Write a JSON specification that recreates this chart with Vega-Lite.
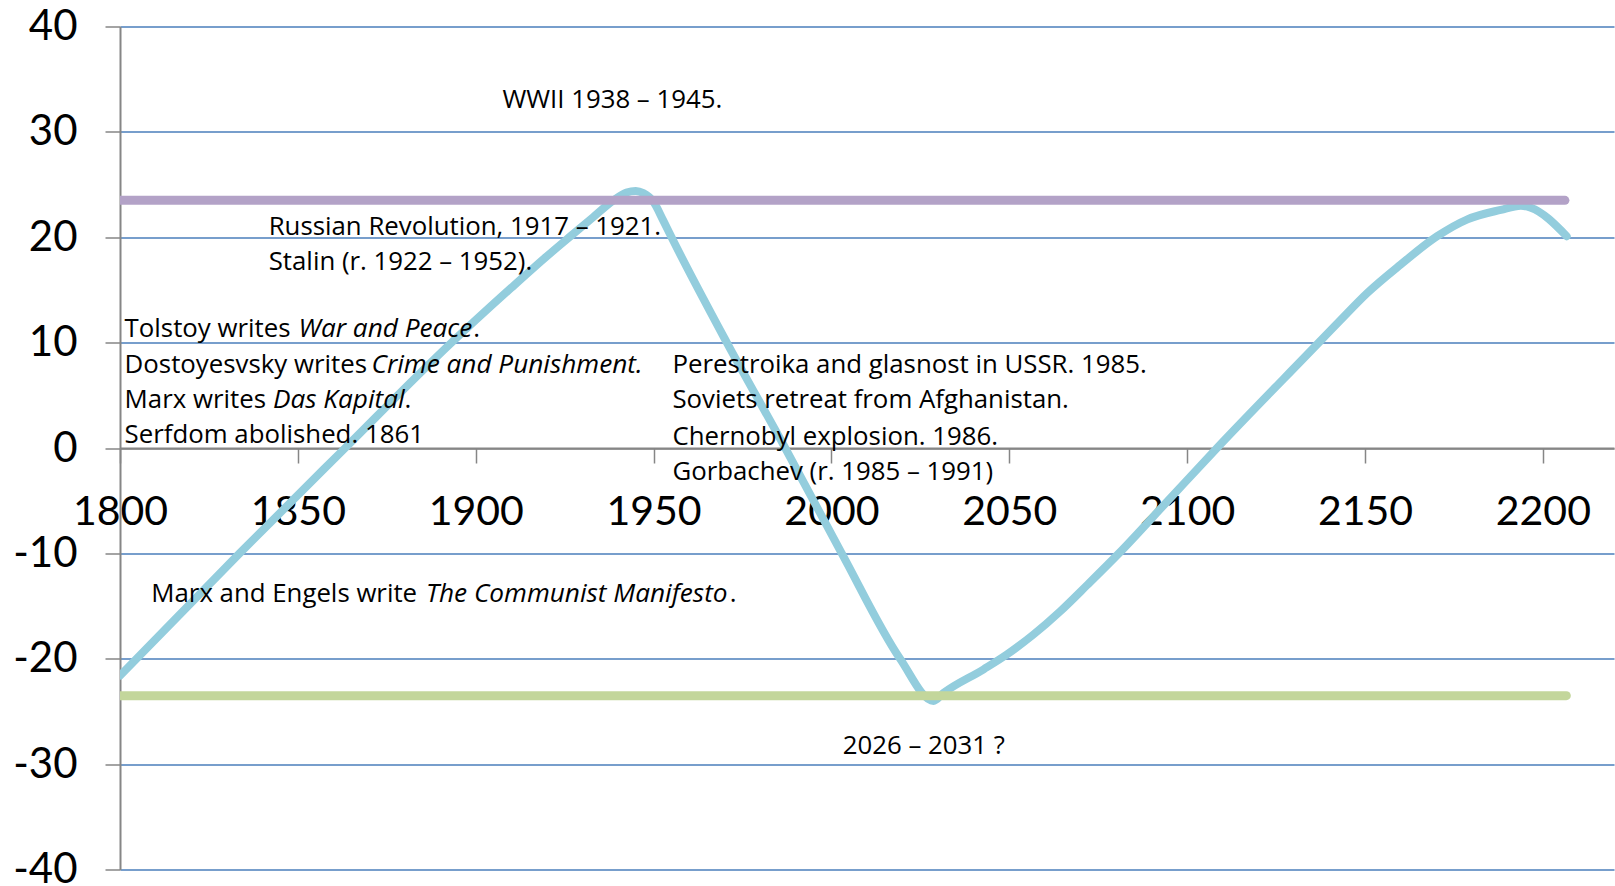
{
  "$schema": "https://vega.github.io/schema/vega-lite/v6.json",
  "width": 1494,
  "height": 843,
  "autosize": {"type": "none"},
  "padding": {"left": 120, "top": 26.5, "right": 1, "bottom": 16.5},
  "background": "white",
  "config": {"view": {"stroke": null}, "font": "Lato"},
  "datasets": {
    "curve": [
      {"year": 1800, "value": -21.6}, {"year": 1833.6, "value": -10}, {"year": 1863.3, "value": 0},
      {"year": 1893.2, "value": 10}, {"year": 1910, "value": 15.2}, {"year": 1920, "value": 18.2},
      {"year": 1927, "value": 20.2}, {"year": 1933, "value": 21.9}, {"year": 1938.7, "value": 23.5},
      {"year": 1942.4, "value": 24.25}, {"year": 1945, "value": 24.4}, {"year": 1947.1, "value": 24.2},
      {"year": 1949.9, "value": 23.4}, {"year": 1952.7, "value": 21.6}, {"year": 1954.6, "value": 20.3},
      {"year": 1970.6, "value": 10}, {"year": 1987, "value": 0}, {"year": 2002.9, "value": -10},
      {"year": 2019.3, "value": -20}, {"year": 2028.7, "value": -24}, {"year": 2031.5, "value": -23.25},
      {"year": 2042.8, "value": -21.0}, {"year": 2049.3, "value": -19.6}, {"year": 2056.8, "value": -17.7},
      {"year": 2064.3, "value": -15.5}, {"year": 2071.9, "value": -13.0}, {"year": 2080.8, "value": -10},
      {"year": 2094.6, "value": -5}, {"year": 2108.4, "value": 0}, {"year": 2137, "value": 10},
      {"year": 2143, "value": 12.1}, {"year": 2150.6, "value": 14.7}, {"year": 2160, "value": 17.4},
      {"year": 2170.3, "value": 20.1}, {"year": 2178.8, "value": 21.7}, {"year": 2188.2, "value": 22.6},
      {"year": 2193.8, "value": 23.0}, {"year": 2196.6, "value": 22.8}, {"year": 2206.7, "value": 20.1}
    ],
    "bands": [
      {"start": 1800, "end": 2206.2, "level": 23.5, "band": "upper"},
      {"start": 1800, "end": 2206.6, "level": -23.5, "band": "lower"}
    ],
    "notes": [
      {"x": 1907.5, "y": 32.3, "label": "WWII 1938 – 1945."},
      {"x": 1841.8, "y": 20.24, "label": "Russian Revolution, 1917 – 1921."},
      {"x": 1841.8, "y": 16.92, "label": "Stalin (r. 1922 – 1952)."},
      {"x": 1801.3, "y": 10.5, "label": "Tolstoy writes "},
      {"x": 1899.3, "y": 10.5, "label": "."},
      {"x": 1801.3, "y": 7.16, "label": "Dostoyesvsky writes "},
      {"x": 1801.3, "y": 3.83, "label": "Marx writes "},
      {"x": 1880.0, "y": 3.83, "label": "."},
      {"x": 1801.3, "y": 0.5, "label": "Serfdom abolished. 1861"},
      {"x": 1955.3, "y": 7.09, "label": "Perestroika and glasnost in USSR. 1985."},
      {"x": 1955.3, "y": 3.76, "label": "Soviets retreat from Afghanistan."},
      {"x": 1955.3, "y": 0.24, "label": "Chernobyl explosion. 1986."},
      {"x": 1955.3, "y": -3.08, "label": "Gorbachev (r. 1985 – 1991)"},
      {"x": 1808.8, "y": -14.58, "label": "Marx and Engels write "},
      {"x": 1971.4, "y": -14.58, "label": "."},
      {"x": 2003.2, "y": -29.08, "label": "2026 – 2031 ?"}
    ],
    "italicNotes": [
      {"x": 1850.2, "y": 10.5, "label": "War and Peace"},
      {"x": 1870.7, "y": 7.16, "label": "Crime and Punishment."},
      {"x": 1843.0, "y": 3.83, "label": "Das Kapital"},
      {"x": 1886.0, "y": -14.58, "label": "The Communist Manifesto"}
    ]
  },
  "layer": [
    {
      "data": {"name": "curve"},
      "mark": {"type": "line", "color": "#93CDDD", "strokeWidth": 8, "strokeCap": "round", "strokeJoin": "round", "clip": true, "interpolate": "monotone"},
      "encoding": {
        "x": {
          "field": "year", "type": "quantitative",
          "scale": {"domain": [1800, 2220], "nice": false, "zero": false},
          "axis": {
            "values": [1800, 1850, 1900, 1950, 2000, 2050, 2100, 2150, 2200],
            "labelExpr": "'' + datum.value",
            "offset": -421.5,
            "grid": false,
            "domainColor": "#868686", "domainWidth": 2,
            "tickColor": "#868686", "tickWidth": 1.5, "tickSize": 15,
            "labelFont": "Lato", "labelFontSize": 41, "labelColor": "#000000",
            "labelPadding": 29, "labelFlush": false, "labelOverlap": false,
            "title": null
          }
        },
        "y": {
          "field": "value", "type": "quantitative",
          "scale": {"domain": [-40, 40], "nice": false},
          "axis": {
            "values": [-40, -30, -20, -10, 0, 10, 20, 30, 40],
            "labelExpr": "datum.value < 0 ? '-' + abs(datum.value) : '' + datum.value",
            "grid": true,
            "gridColor": {"condition": {"test": "datum.value === 0", "value": "#868686"}, "value": "#4A7EBB"},
            "gridWidth": 1.6,
            "domainColor": "#868686", "domainWidth": 2,
            "tickColor": "#868686", "tickWidth": 1.5, "tickSize": 15,
            "labelFont": "Lato", "labelFontSize": 42, "labelColor": "#000000",
            "labelPadding": 28, "labelFlush": false, "labelOverlap": false,
            "title": null
          }
        }
      }
    },
    {
      "data": {"name": "bands"},
      "mark": {"type": "rule", "strokeWidth": 9, "strokeCap": "round", "clip": true},
      "encoding": {
        "x": {"field": "start", "type": "quantitative"},
        "x2": {"field": "end"},
        "y": {"field": "level", "type": "quantitative"},
        "color": {
          "field": "band", "type": "nominal",
          "scale": {"domain": ["upper", "lower"], "range": ["#B3A2C7", "#C3D69B"]},
          "legend": null
        }
      }
    },
    {
      "data": {"name": "notes"},
      "mark": {"type": "text", "align": "left", "baseline": "alphabetic", "font": "Open Sans", "fontSize": 25.8, "color": "#000000"},
      "encoding": {
        "x": {"field": "x", "type": "quantitative"},
        "y": {"field": "y", "type": "quantitative"},
        "text": {"field": "label"}
      }
    },
    {
      "data": {"name": "italicNotes"},
      "mark": {"type": "text", "align": "left", "baseline": "alphabetic", "font": "Open Sans", "fontSize": 26.2, "fontStyle": "italic", "color": "#000000"},
      "encoding": {
        "x": {"field": "x", "type": "quantitative"},
        "y": {"field": "y", "type": "quantitative"},
        "text": {"field": "label"}
      }
    }
  ]
}
